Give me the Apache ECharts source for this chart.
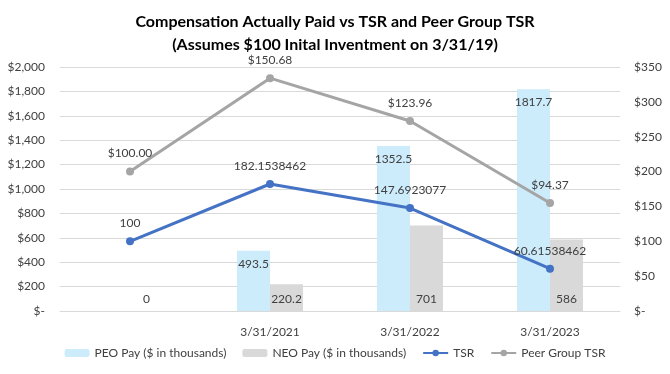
<!DOCTYPE html>
<html><head><meta charset="utf-8">
<script src="https://cdn.jsdelivr.net/npm/echarts@6/dist/echarts.min.js"></script>
<style>html,body{margin:0;padding:0;background:#fff}#c{width:670px;height:374px}</style>
</head><body><div id="c"></div>
<script>
const categories = ['', '3/31/2021', '3/31/2022', '3/31/2023'];
const peoPay = [null, 493.5, 1352.5, 1817.7];
const neoPay = [0, 220.2, 701, 586];
const tsr = [100, 182.1538462, 147.6923077, 60.61538462];
const peerTsr = [200, 334, 272.5, 155];
const peerLabels = ['$100.00', '$150.68', '$123.96', '$94.37'];
const leftTicks = [0, 200, 400, 600, 800, 1000, 1200, 1400, 1600, 1800, 2000];
const rightTicks = [0, 50, 100, 150, 200, 250, 300, 350];

const FONT = 'Lato, "Liberation Sans", sans-serif';
const TXT = '#404040';
function money(v){ return v === 0 ? '$-' : '$' + v.toLocaleString('en-US'); }

const chart = echarts.init(document.getElementById('c'), null, {renderer:'canvas'});
chart.setOption({
  animation:false,
  textStyle:{fontFamily:FONT},
  title:{
    text:'Compensation Actually Paid vs TSR and Peer Group TSR\n(Assumes $100 Inital Inventment on 3/31/19)',
    left:'center', top:5,
    textStyle:{fontFamily:'"Liberation Sans Narrow", Lato, sans-serif', fontWeight:'bold', fontSize:16, lineHeight:23, color:'#000'}
  },
  legend:{
    bottom:10, left:'center', itemGap:16, itemWidth:25, itemHeight:8,
    textStyle:{color:TXT, fontSize:12, fontFamily:FONT},
    data:['PEO Pay ($ in thousands)','NEO Pay ($ in thousands)','TSR','Peer Group TSR']
  },
  grid:{left:60, right:50, top:67, bottom:63},
  xAxis:{
    type:'category', data:categories,
    axisLine:{lineStyle:{color:'#D9D9D9'}}, axisTick:{show:false},
    axisLabel:{color:TXT, fontSize:12, margin:15}
  },
  yAxis:[
    {type:'value', min:leftTicks[0], max:leftTicks[leftTicks.length-1], interval:200,
     axisLine:{show:false}, axisTick:{show:false},
     splitLine:{lineStyle:{color:'#D9D9D9'}},
     axisLabel:{color:TXT, fontSize:12, margin:15, formatter:money}},
    {type:'value', min:rightTicks[0], max:rightTicks[rightTicks.length-1], interval:50,
     axisLine:{show:false}, axisTick:{show:false}, splitLine:{show:false},
     axisLabel:{color:TXT, fontSize:12, margin:14, formatter:money}}
  ],
  series:[
    {name:'PEO Pay ($ in thousands)', type:'bar', data:peoPay, barWidth:33, barGap:'0%',
     itemStyle:{color:'#CCEBFB'},
     label:{show:true, position:'insideTop', distance:7, color:TXT, fontSize:12}},
    {name:'NEO Pay ($ in thousands)', type:'bar', data:neoPay, barWidth:33,
     itemStyle:{color:'#D9D9D9'},
     label:{show:true, position:'insideBottom', distance:6, color:TXT, fontSize:12}},
    {name:'TSR', type:'line', yAxisIndex:1, data:tsr, symbol:'circle', symbolSize:8,
     lineStyle:{color:'#4472C4', width:3}, itemStyle:{color:'#4472C4'},
     label:{show:true, position:'top', distance:8, color:TXT, fontSize:12,
            formatter:p=>String(p.value)}},
    {name:'Peer Group TSR', type:'line', yAxisIndex:1, data:peerTsr, symbol:'circle', symbolSize:8,
     lineStyle:{color:'#A5A5A5', width:3}, itemStyle:{color:'#A5A5A5'},
     label:{show:true, position:'top', distance:8, color:TXT, fontSize:12,
            formatter:p=>peerLabels[p.dataIndex]}}
  ]
});
</script></body></html>
